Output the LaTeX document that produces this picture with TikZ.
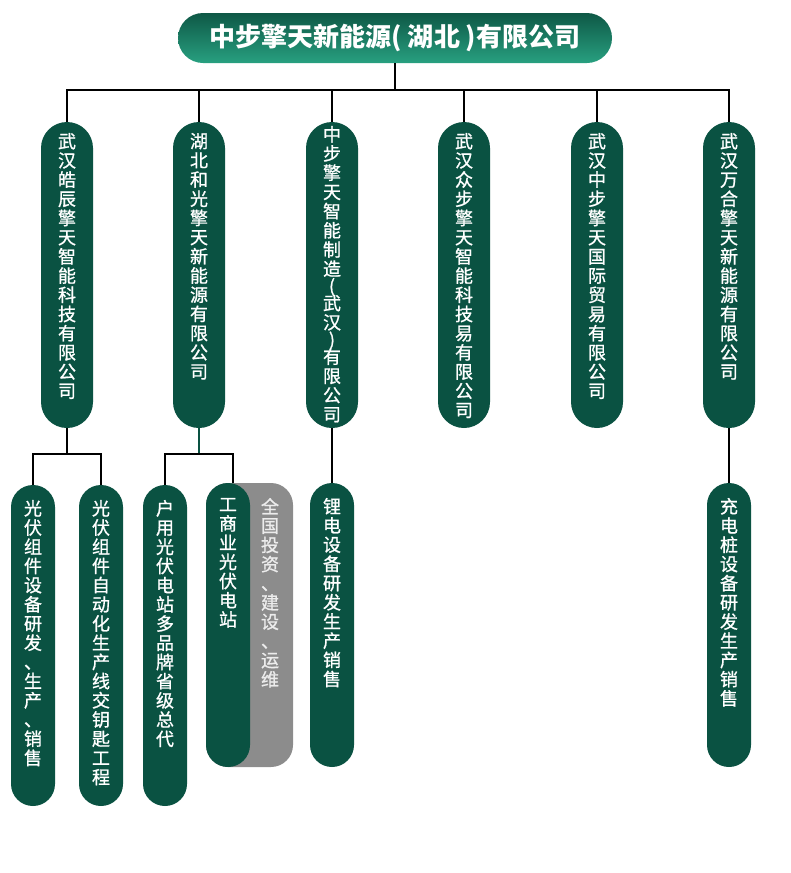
\documentclass[tikz,border=0pt]{standalone}
\usepackage{fontspec}
\setmainfont{Noto Sans CJK SC}
\newfontfamily\pillfont{Noto Sans CJK SC}[FakeBold=1]
\usetikzlibrary{positioning}
\definecolor{pillgreen}{RGB}{10,82,66}
\definecolor{titletop}{RGB}{14,88,70}
\definecolor{titlebot}{RGB}{40,160,128}
\definecolor{sidegray}{RGB}{140,140,140}
\definecolor{sidetext}{RGB}{236,236,236}
\tikzset{
  link/.style={line width=2pt, black},
  firm/.style={fill=pillgreen, rounded corners=26pt, minimum width=52pt, minimum height=306pt, inner sep=0pt},
  duty/.style={fill=pillgreen, rounded corners=22pt, minimum width=44pt, inner sep=0pt},
  vtext/.style={inner sep=0pt, align=center, text=white, font=\pillfont\fontsize{18}{19.2}\selectfont}
}

\begin{document}
\begin{tikzpicture}[x=1pt, y=-1pt]
\useasboundingbox (0,0) rectangle (790,873);
% top company
\node[top color=titletop, bottom color=titlebot, rounded corners=25pt, minimum width=434pt, minimum height=50pt, text=white, font=\fontsize{26}{30}\selectfont\bfseries] (top) at (395,38) {中步擎天新能源( 湖北 )有限公司};

% subsidiaries
\node[firm] (c1) at (67,275) {};
\node[firm] (c2) at (199,275) {};
\node[firm] (c3) at (332,275) {};
\node[firm] (c4) at (464,275) {};
\node[firm] (c5) at (597,275) {};
\node[firm] (c6) at (729,275) {};
\node[vtext, below=11pt of c1.north] (t1) {武\\汉\\皓\\辰\\擎\\天\\智\\能\\科\\技\\有\\限\\公\\司};
\node[vtext, below=11pt of c2.north] (t2) {湖\\北\\和\\光\\擎\\天\\新\\能\\源\\有\\限\\公\\司};
\node[vtext, below=4pt of c3.north] (t3) {中\\步\\擎\\天\\智\\能\\制\\造\\[-2pt](\\[-2pt]武\\汉\\[-2pt])\\[-2pt]有\\限\\公\\司};
\node[vtext, below=11pt of c4.north] (t4) {武\\汉\\众\\步\\擎\\天\\智\\能\\科\\技\\易\\有\\限\\公\\司};
\node[vtext, below=11pt of c5.north] (t5) {武\\汉\\中\\步\\擎\\天\\国\\际\\贸\\易\\有\\限\\公\\司};
\node[vtext, below=11pt of c6.north] (t6) {武\\汉\\万\\合\\擎\\天\\新\\能\\源\\有\\限\\公\\司};

% business lines
\node[duty, minimum height=321pt] (s1) at (33,645.5) {};
\node[duty, minimum height=321pt] (s2) at (101,645.5) {};
\node[duty, minimum height=321pt] (s3) at (165,645.5) {};
\node[fill=sidegray, rounded corners=22pt, minimum width=87pt, minimum height=284pt, inner sep=0pt] (g4) at (249.5,625) {};
\node[duty, minimum height=284pt] (s4) at (228,625) {};
\node[duty, minimum height=284pt] (s5) at (332,625) {};
\node[duty, minimum height=284pt] (s6) at (729,625) {};
\node[vtext, below=15pt of s1.north] (u1) {光\\伏\\组\\件\\设\\备\\研\\发\\、\\生\\产\\、\\销\\售};
\node[vtext, below=15pt of s2.north] (u2) {光\\伏\\组\\件\\自\\动\\化\\生\\产\\线\\交\\钥\\匙\\工\\程};
\node[vtext, below=15pt of s3.north] (u3) {户\\用\\光\\伏\\电\\站\\多\\品\\牌\\省\\级\\总\\代};
\node[vtext, below=15pt of s4.north] (u4) {工\\商\\业\\光\\伏\\电\\站};
\node[vtext, text=sidetext, below=15pt of s4.north, xshift=42pt] (w4) {全\\国\\投\\资\\、\\建\\设\\、\\运\\维};
\node[vtext, below=15pt of s5.north] (u5) {锂\\电\\设\\备\\研\\发\\生\\产\\销\\售};
\node[vtext, below=15pt of s6.north] (u6) {充\\电\\桩\\设\\备\\研\\发\\生\\产\\销\\售};

% connectors
\coordinate (bus) at (395,90);
\draw[link] (top) -- (bus);
\draw[link] (c1.north) |- (bus) -| (c6.north);
\draw[link] (c2.north) -- (c2.north |- bus);
\draw[link] (c3.north) -- (c3.north |- bus);
\draw[link] (c4.north) -- (c4.north |- bus);
\draw[link] (c5.north) -- (c5.north |- bus);
\coordinate (j1) at (67,454);
\coordinate (j2) at (199,454);
\draw[link] (c1.south) -- (j1);
\draw[link] (s1.north) |- (j1) -| (s2.north);
\draw[link, pillgreen] (c2.south) -- (j2);
\draw[link] (s3.north) |- (j2) -| ([xshift=5pt]s4.north);
\draw[link] (c3.south) -- (s5.north);
\draw[link] (c6.south) -- (s6.north);
\end{tikzpicture}
\end{document}
